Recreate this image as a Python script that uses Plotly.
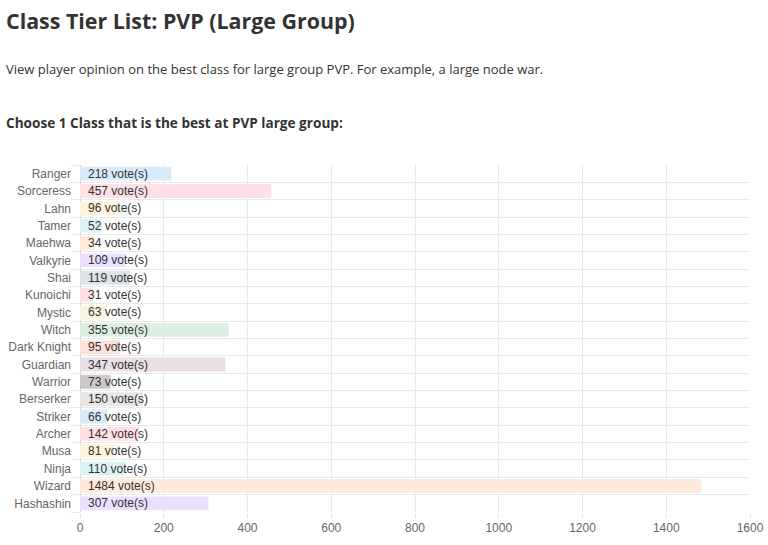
import plotly.graph_objects as go

classes = ["Ranger", "Sorceress", "Lahn", "Tamer", "Maehwa", "Valkyrie", "Shai",
           "Kunoichi", "Mystic", "Witch", "Dark Knight", "Guardian", "Warrior",
           "Berserker", "Striker", "Archer", "Musa", "Ninja", "Wizard", "Hashashin"]
votes = [218, 457, 96, 52, 34, 109, 119, 31, 63, 355, 95, 347, 73, 150, 66, 142, 81, 110, 1484, 307]
bar_colors = ["#d7ebfb", "#ffe0e6", "#fff4dc", "#dbf2f2", "#ffeadb", "#ebe0ff", "#dde2e8",
              "#ffe0e6", "#f8f6dc", "#dcf0e2", "#fde1da", "#ebdfe6", "#c9c9c9",
              "#e6e6e6", "#d7ebfb", "#ffe0e6", "#fff4dc", "#dbf2f2", "#ffeadb", "#ebe0ff"]
x_ticks = [0, 200, 400, 600, 800, 1000, 1200, 1400, 1600]

title_text = "Class Tier List: PVP (Large Group)"
subtitle_text = "View player opinion on the best class for large group PVP. For example, a large node war."
question_text = "Choose 1 Class that is the best at PVP large group:"

W, H = 768, 545
L, R, T, B = 80, 18, 165, 33
PW, PH = W - L - R, H - T - B

def px_x(px):
    return (px - L) / PW

def px_y(py):
    return (H - B - py) / PH

GRID = "#e9e9e9"
LABEL = "#666666"
HEAD = "#333333"
n = len(classes)

fig = go.Figure()
fig.add_trace(go.Bar(
    x=votes, y=classes, orientation="h",
    marker=dict(color=bar_colors, line=dict(width=0)),
    hoverinfo="skip", showlegend=False,
))
# boundary grid overlay
fig.add_trace(go.Scatter(x=[None], y=[None], yaxis="y2", showlegend=False, hoverinfo="skip"))

annotations = [
    dict(text=f"{v} vote(s)", x=0, y=c, xref="x", yref="y",
         xanchor="left", yanchor="middle", xshift=6, showarrow=False,
         font=dict(family="Liberation Sans, Arial, sans-serif", size=12, color="#333333"))
    for c, v in zip(classes, votes)
]
annotations += [
    dict(text=f"<b>{title_text}</b>", xref="paper", yref="paper",
         x=px_x(4), y=px_y(20), xanchor="left", yanchor="middle", showarrow=False,
         font=dict(family="Open Sans", size=21.4, color=HEAD)),
    dict(text=subtitle_text, xref="paper", yref="paper",
         x=px_x(4), y=px_y(69), xanchor="left", yanchor="middle", showarrow=False,
         font=dict(family="Open Sans", size=13, color=HEAD)),
    dict(text=f"<b>{question_text}</b>", xref="paper", yref="paper",
         x=px_x(4), y=px_y(122), xanchor="left", yanchor="middle", showarrow=False,
         font=dict(family="Open Sans", size=13.6, color=HEAD)),
]

fig.update_layout(
    width=W, height=H,
    margin=dict(l=L, r=R, t=T, b=B, autoexpand=False),
    paper_bgcolor="white", plot_bgcolor="white",
    bargap=0.2,
    font=dict(family="Liberation Sans, Arial, sans-serif", size=12, color=LABEL),
    xaxis=dict(
        range=[x_ticks[0], x_ticks[-1]], tickvals=x_ticks,
        showgrid=True, gridcolor=GRID, gridwidth=1,
        zeroline=True, zerolinecolor="#d6d6d6", zerolinewidth=1,
        ticks="outside", ticklen=5, tickcolor=GRID,
        tickfont=dict(size=12, color=LABEL), showline=False, fixedrange=True,
        automargin=False,
    ),
    yaxis=dict(
        type="category", range=[n - 0.5, -0.5],
        showgrid=False, zeroline=False, ticks="", ticklen=0,
        tickfont=dict(size=12, color=LABEL), ticklabelstandoff=8, fixedrange=True,
        automargin=False,
    ),
    yaxis2=dict(
        overlaying="y", side="left", anchor="x",
        range=[n - 0.5, -0.5],
        tickmode="array", tickvals=[i - 0.5 for i in range(n + 1)],
        showticklabels=False, showgrid=True, gridcolor=GRID, gridwidth=1,
        zeroline=False, ticks="outside", ticklen=8, tickcolor=GRID, fixedrange=True,
        automargin=False,
    ),
    annotations=annotations,
)

fig.write_html("out.html")
